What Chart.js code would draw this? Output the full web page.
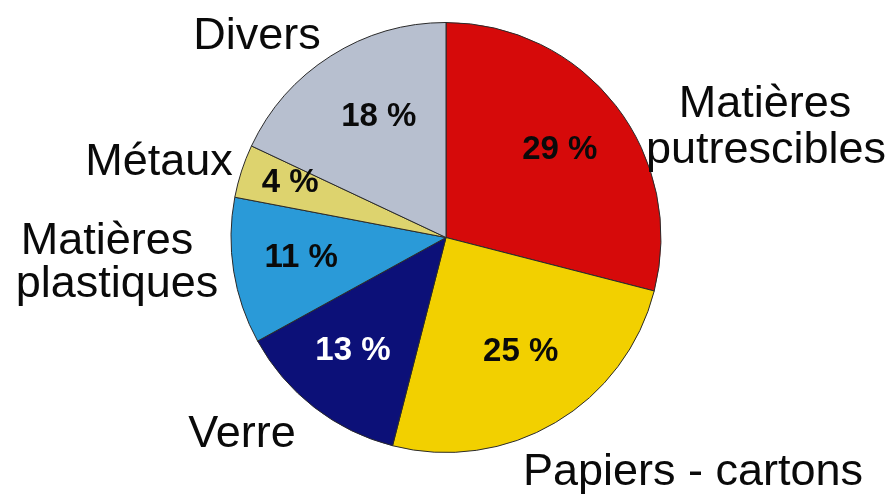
<!DOCTYPE html>
<html>
<head>
<meta charset="utf-8">
<script src="https://cdn.jsdelivr.net/npm/chart.js@4/dist/chart.umd.min.js"></script>
<style>
  html, body { margin: 0; padding: 0; background: #ffffff; }
  #wrap { width: 891px; height: 496px; position: relative; }
</style>
</head>
<body>
<div id="wrap"><canvas id="c" width="891" height="496"></canvas></div>
<script>
// ---- data ----
const categories = ["Matières putrescibles", "Papiers - cartons", "Verre", "Matières plastiques", "Métaux", "Divers"];
const percentValues = [29, 25, 13, 11, 4, 18];
const sliceColors = ["#d60a0a", "#f2d000", "#0c1078", "#2a9ad8", "#ddd36e", "#b7bfcf"];
const valueTextColors = ["#0a0a0a", "#0a0a0a", "#ffffff", "#0a0a0a", "#0a0a0a", "#0a0a0a"];
// outer label lines
const labelLines = [["Matières", "putrescibles"], ["Papiers - cartons"], ["Verre"], ["Matières", "plastiques"], ["Métaux"], ["Divers"]];

// ---- placement (px offsets from pie centre, text baselines) ----
const outerPlacement = [
  [[319, -121], [320, -75]],
  [[247, 247]],
  [[-204, 209]],
  [[-339, 16], [-329, 59]],
  [[-287, -63]],
  [[-189, -189]]
];
const innerRadiusFactor = [0.67, 0.63, 0.68, 0.68, 0.77, 0.645];
const innerAngleShift = [0, -0.05, 0.03, 0.025, 0.03, 0.06];

const labelPlugin = {
  id: 'pieLabels',
  afterDatasetsDraw(chart) {
    const ctx = chart.ctx;
    const meta = chart.getDatasetMeta(0);
    ctx.save();
    meta.data.forEach((arc, i) => {
      const p = arc.getProps(['x', 'y', 'startAngle', 'endAngle', 'outerRadius'], true);
      const mid = (p.startAngle + p.endAngle) / 2 + innerAngleShift[i];
      const r = p.outerRadius * innerRadiusFactor[i];
      const tx = p.x + Math.cos(mid) * r;
      const ty = p.y + Math.sin(mid) * r;
      ctx.font = 'bold 33px "Liberation Sans", Arial, sans-serif';
      ctx.fillStyle = valueTextColors[i];
      ctx.textAlign = 'center';
      ctx.textBaseline = 'middle';
      ctx.fillText(percentValues[i] + ' %', tx, ty + 1);

      ctx.font = '45px "Liberation Sans", Arial, sans-serif';
      ctx.fillStyle = '#0a0a0a';
      ctx.textBaseline = 'alphabetic';
      labelLines[i].forEach((line, k) => {
        const off = outerPlacement[i][k];
        ctx.fillText(line, p.x + off[0], p.y + off[1]);
      });
    });
    ctx.restore();
  }
};

new Chart(document.getElementById('c'), {
  type: 'pie',
  data: {
    labels: categories,
    datasets: [{
      data: percentValues,
      backgroundColor: sliceColors,
      borderColor: '#2a2a2a',
      borderWidth: 1
    }]
  },
  options: {
    responsive: false,
    animation: false,
    layout: { padding: { top: 22, bottom: 43, left: 1, right: 0 } },
    plugins: {
      legend: { display: false },
      tooltip: { enabled: false }
    }
  },
  plugins: [labelPlugin]
});
</script>
</body>
</html>
